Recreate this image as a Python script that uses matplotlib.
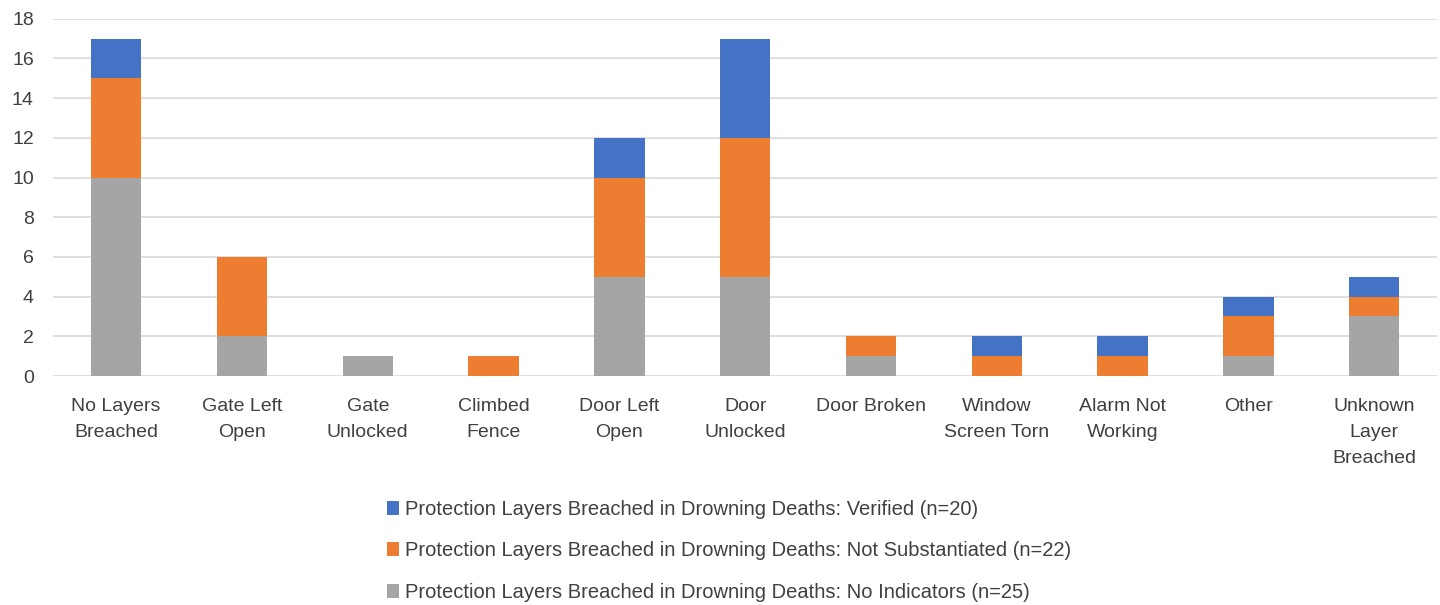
import matplotlib
matplotlib.use("Agg")
import matplotlib.pyplot as plt
import numpy as np

plt.rcParams['font.family'] = ['Liberation Sans', 'DejaVu Sans']

categories = ["No Layers\nBreached", "Gate Left\nOpen", "Gate\nUnlocked", "Climbed\nFence",
              "Door Left\nOpen", "Door\nUnlocked", "Door Broken", "Window\nScreen Torn",
              "Alarm Not\nWorking", "Other", "Unknown\nLayer\nBreached"]
no_indicators = [10, 2, 1, 0, 5, 5, 1, 0, 0, 1, 3]
not_substantiated = [5, 4, 0, 1, 5, 7, 1, 1, 1, 2, 1]
verified = [2, 0, 0, 0, 2, 5, 0, 1, 1, 1, 1]

lbl_ver = "Protection Layers Breached in Drowning Deaths: Verified (n=20)"
lbl_ns = "Protection Layers Breached in Drowning Deaths: Not Substantiated (n=22)"
lbl_ni = "Protection Layers Breached in Drowning Deaths: No Indicators (n=25)"

fig = plt.figure(figsize=(14.4, 6.05), dpi=100)
ax = fig.add_axes([0.037, 0.3785, 0.961, 0.5905])

x = np.arange(len(categories))
w = 0.4
ni = np.array(no_indicators)
ns = np.array(not_substantiated)
ve = np.array(verified)
b1 = ax.bar(x, ni, w, color="#A5A5A5", label=lbl_ni, zorder=3)
b2 = ax.bar(x, ns, w, bottom=ni, color="#ED7D31", label=lbl_ns, zorder=3)
b3 = ax.bar(x, ve, w, bottom=ni + ns, color="#4472C4", label=lbl_ver, zorder=3)

ax.set_xlim(-0.5, len(categories) - 0.5)
ax.set_ylim(0, 18)
ax.set_yticks(range(0, 19, 2))
ax.set_xticks(x)
ax.set_xticklabels(categories, fontsize=14, color="#404040", linespacing=1.68)
ax.tick_params(axis="y", labelsize=14, labelcolor="#404040", length=0, pad=14)
ax.tick_params(axis="x", length=0, pad=16)
ax.yaxis.grid(True, color="#D9D9D9", linewidth=1.2, zorder=0)
for s in ax.spines.values():
    s.set_visible(False)

fig.legend(handles=[b3, b2, b1], loc="upper left", bbox_to_anchor=(0.256, 0.203),
           frameon=False, fontsize=14.5, handlelength=0.6, handleheight=0.7,
           handletextpad=0.3, labelspacing=1.1, labelcolor="#404040")
plt.savefig("out.png", dpi=100)
